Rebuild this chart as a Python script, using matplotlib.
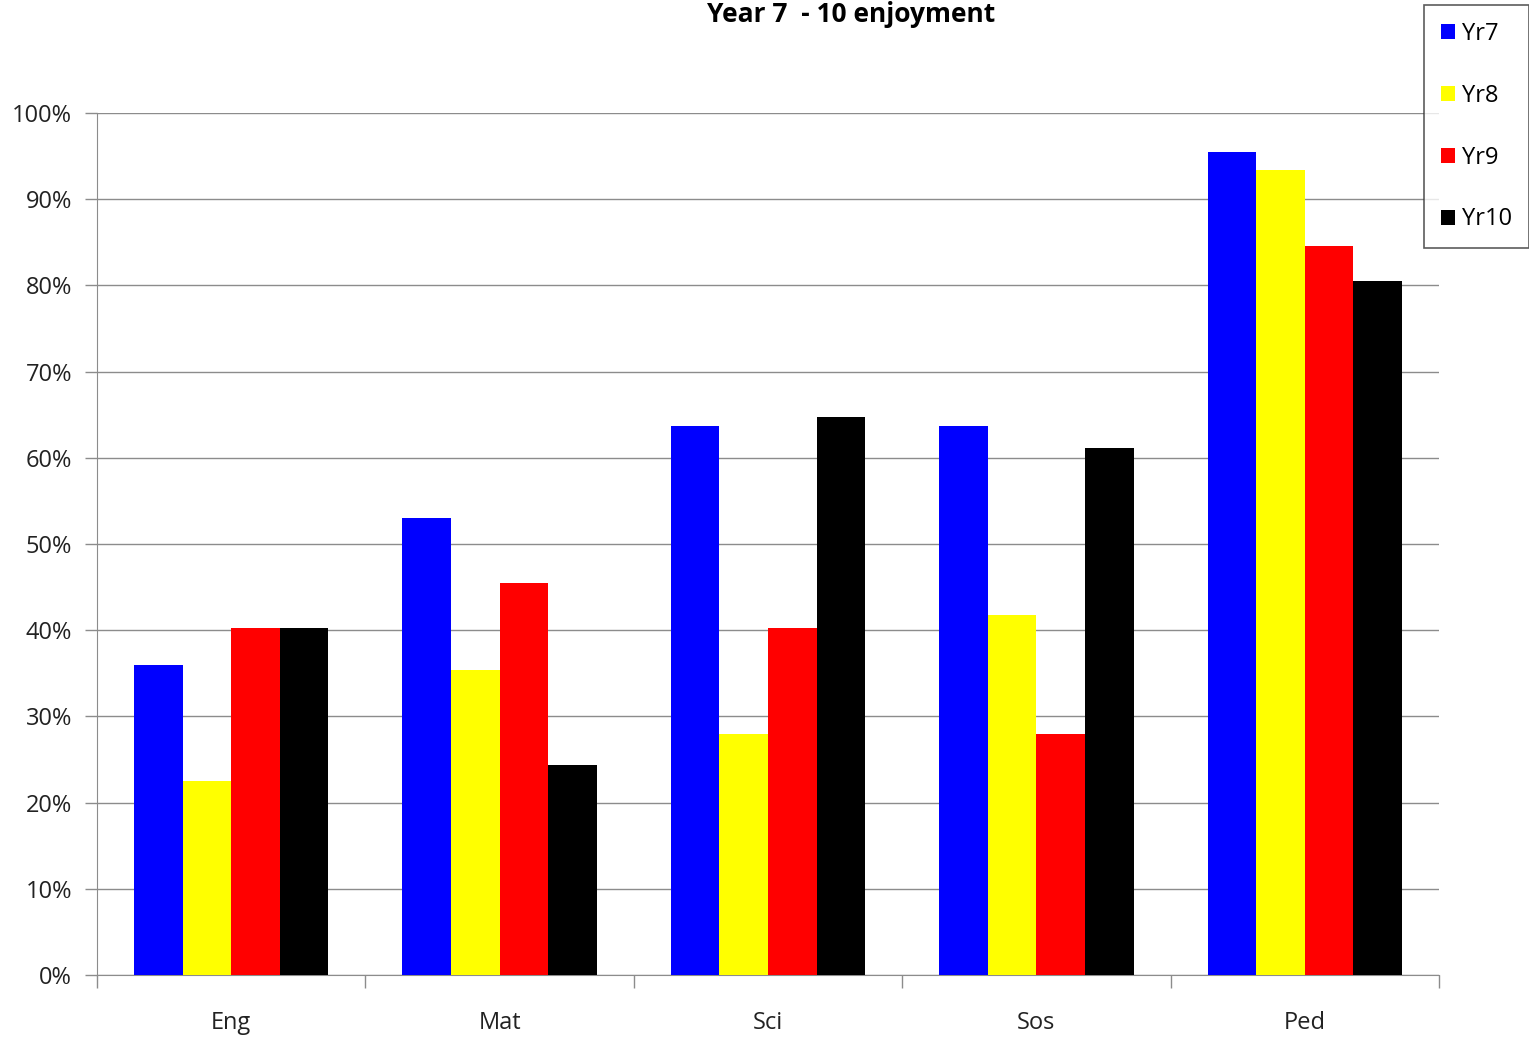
import matplotlib as mpl
mpl.use('Agg')
from matplotlib import pyplot as plt
from matplotlib.ticker import PercentFormatter
import numpy as np

plt.rcParams['font.family'] = ['Open Sans', 'DejaVu Sans']

subjects = ['Eng', 'Mat', 'Sci', 'Sos', 'Ped']
series = ['Yr7', 'Yr8', 'Yr9', 'Yr10']
yr7 = [36.0, 53.0, 63.7, 63.7, 95.5]
yr8 = [22.5, 35.4, 28.0, 41.8, 93.4]
yr9 = [40.3, 45.5, 40.3, 28.0, 84.6]
yr10 = [40.3, 24.4, 64.7, 61.1, 80.5]
colors = ['#0000ff', '#ffff00', '#ff0000', '#000000']

fig = plt.figure(figsize=(15.29, 10.41), dpi=100)
ax = fig.add_axes([97/1529, 66/1041, 1342/1529, 862/1041])

x = np.arange(len(subjects))
w = 0.181
for i, (vals, name) in enumerate(zip([yr7, yr8, yr9, yr10], series)):
    ax.bar(x + (i - 1.5) * w, vals, w, color=colors[i], label=name, zorder=3)

ax.set_xlim(-0.5, len(subjects) - 0.5)
ax.set_ylim(0, 100)
ax.set_yticks(np.arange(0, 101, 10))
ax.yaxis.set_major_formatter(PercentFormatter(decimals=0))
ax.yaxis.grid(True, color='#8c8c8c', linewidth=1.0, zorder=0)
ax.set_xticks(x)
ax.set_xticklabels(subjects)
ax.set_xticks(np.arange(-0.5, len(subjects)), minor=True)
ax.tick_params(axis='x', which='major', length=0, pad=26, labelsize=17)
ax.tick_params(axis='x', which='minor', length=9, color='#8c8c8c', width=1)
ax.tick_params(axis='y', length=9, color='#8c8c8c', width=1, labelsize=17, pad=9)
for s in ['top', 'right']:
    ax.spines[s].set_visible(False)
for s in ['left', 'bottom']:
    ax.spines[s].set_color('#8c8c8c')
ax.tick_params(labelcolor='#222222')

fig.text(851/1529, 1 - 14/1041, 'Year 7  - 10 enjoyment', ha='center', va='center',
         fontsize=19, fontweight='bold')

leg = fig.legend(loc='upper left', bbox_to_anchor=(1424/1529, 1 - 5/1041),
                 borderaxespad=0, frameon=True, fontsize=17,
                 handlelength=0.6, handleheight=0.6,
                 handletextpad=0.3, labelspacing=1.6, borderpad=0.72,
                 fancybox=False, edgecolor='#333333')
leg.get_frame().set_linewidth(1.2)

fig.savefig('out.png', dpi=100)
